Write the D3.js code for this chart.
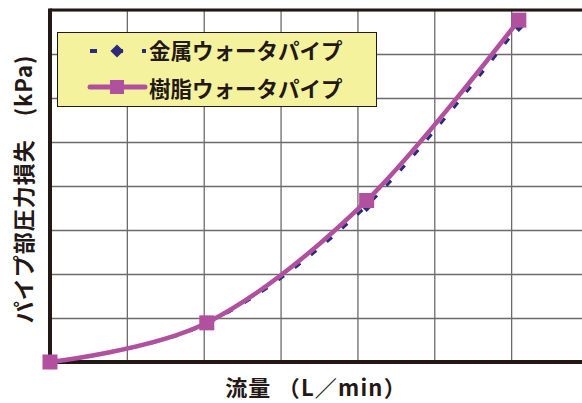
<!DOCTYPE html>
<html lang="ja">
<head>
	<meta charset="UTF-8">
	<title>パイプ部圧力損失</title>
	<style>
		* {
			margin: 0;
			padding: 0;
		}
		body {
			background: #fff;
		}
		.svg {
			display: block;
		}
		text {
			font-family: "Noto Sans CJK JP", "Noto Sans", sans-serif;
			font-weight: bold;
			fill: #231815;
		}
	</style>
</head>
<body>
	<script src="https://cdn.jsdelivr.net/npm/d3@7"></script>
	<script>
		// 流量 (L/min) — grid every 5
		var flow = [0, 10.2, 20.6, 30.5];
		// 圧力損失 (grid units)
		var metalLoss = [0, 0.87, 3.55, 7.64];
		var resinLoss = [0, 0.89, 3.67, 7.77];
		var seriesNames = ['金属ウォータパイプ', '樹脂ウォータパイプ'];
		var xTicks = [5, 10, 15, 20, 25, 30, 35];
		var yTicks = [1, 2, 3, 4, 5, 6, 7, 8];

		var contentWidth = 582, contentHeight = 403;
		var padding = { top: 10, left: 50, bottom: 41, right: -6 };
		var width = contentWidth - padding.left - padding.right;
		var height = contentHeight - padding.top - padding.bottom;

		var ink = '#231815';
		var navy = '#2c2a7a';
		var pink = '#b0509e';

		var svg = d3.select('body').append('svg')
			.attr('width', contentWidth).attr('height', contentHeight).classed('svg', true);

		var xScale = d3.scaleLinear().domain([0, 35]).range([0, width]);
		var yScale = d3.scaleLinear().domain([0, 8]).range([height, 0]);

		var box = svg.append('g').attr('transform', 'translate(' + padding.left + ',' + padding.top + ')');

		// グリッド
		box.append('g')
			.attr('transform', 'translate(0,' + height + ')')
			.call(d3.axisBottom(xScale).tickValues(xTicks).tickSize(-height).tickFormat(''))
			.call(function (g) {
				g.select('.domain').remove();
				g.selectAll('line').attr('stroke', '#6e6a6a').attr('stroke-width', 1.3);
			});
		box.append('g')
			.call(d3.axisLeft(yScale).tickValues(yTicks).tickSize(-width).tickFormat(''))
			.call(function (g) {
				g.select('.domain').remove();
				g.selectAll('line').attr('stroke', '#6e6a6a').attr('stroke-width', 1.3);
			});

		// 枠線 (上・左・下)
		box.append('line').attr('x1', 0).attr('x2', width).attr('y1', yScale(8)).attr('y2', yScale(8))
			.attr('stroke', ink).attr('stroke-width', 3);
		box.append('line').attr('x1', xScale(0)).attr('x2', xScale(0)).attr('y1', -1.5).attr('y2', height + 2)
			.attr('stroke', ink).attr('stroke-width', 4);
		box.append('line').attr('x1', 0).attr('x2', width).attr('y1', yScale(0)).attr('y2', yScale(0))
			.attr('stroke', ink).attr('stroke-width', 4);

		var line = d3.line()
			.x(function (d) { return xScale(d[0]); })
			.y(function (d) { return yScale(d[1]); })
			.curve(d3.curveCardinal.tension(0));

		var metal = d3.zip(flow, metalLoss);
		var resin = d3.zip(flow, resinLoss);

		// 金属
		box.append('path').datum(metal)
			.attr('d', line)
			.attr('fill', 'none')
			.attr('stroke', navy)
			.attr('stroke-width', 3)
			.attr('stroke-dasharray', '7 13.5');
		box.selectAll('path.diamond').data(metal).enter()
			.append('path').classed('diamond', true)
			.attr('d', d3.symbol().type(d3.symbolDiamond2).size(95))
			.attr('transform', function (d) { return 'translate(' + xScale(d[0]) + ',' + yScale(d[1]) + ')'; })
			.attr('fill', navy);

		// 樹脂
		box.append('path').datum(resin)
			.attr('d', line)
			.attr('fill', 'none')
			.attr('stroke', pink)
			.attr('stroke-width', 4.5);
		box.selectAll('rect.sq').data(resin).enter()
			.append('rect').classed('sq', true)
			.attr('x', function (d) { return xScale(d[0]) - 7.5; })
			.attr('y', function (d) { return yScale(d[1]) - 7.5; })
			.attr('width', 15).attr('height', 15)
			.attr('fill', pink);

		// 凡例
		var legend = svg.append('g');
		legend.append('rect')
			.attr('x', 57.5).attr('y', 32.5).attr('width', 319).attr('height', 74)
			.attr('fill', '#f5f29d').attr('stroke', ink).attr('stroke-width', 1);

		legend.append('line').attr('x1', 90).attr('x2', 146).attr('y1', 51).attr('y2', 51)
			.attr('stroke', navy).attr('stroke-width', 4).attr('stroke-dasharray', '7 19');
		legend.append('path')
			.attr('d', d3.symbol().type(d3.symbolDiamond2).size(110))
			.attr('transform', 'translate(117,51)')
			.attr('fill', navy);

		legend.append('line').attr('x1', 90).attr('x2', 145).attr('y1', 87).attr('y2', 87)
			.attr('stroke', pink).attr('stroke-width', 5).attr('stroke-linecap', 'round');
		legend.append('rect').attr('x', 110).attr('y', 80).attr('width', 14).attr('height', 14).attr('fill', pink);

		legend.selectAll('text').data(seriesNames).enter()
			.append('text')
			.attr('x', 149)
			.attr('y', function (d, i) { return 59 + i * 37.5; })
			.style('font-size', '21.5px')
			.text(function (d) { return d; });

		// 軸タイトル
		svg.append('text')
			.attr('transform', 'translate(32,189) rotate(-90)')
			.attr('text-anchor', 'middle')
			.style('font-size', '22px')
			.style('letter-spacing', '1px')
			.text('パイプ部圧力損失　(kPa)');

		svg.append('text')
			.attr('x', 316).attr('y', 396)
			.attr('text-anchor', 'middle')
			.style('font-size', '22px')
			.style('letter-spacing', '1.2px')
			.text('流量 （L／min）');
	</script>
</body>
</html>
